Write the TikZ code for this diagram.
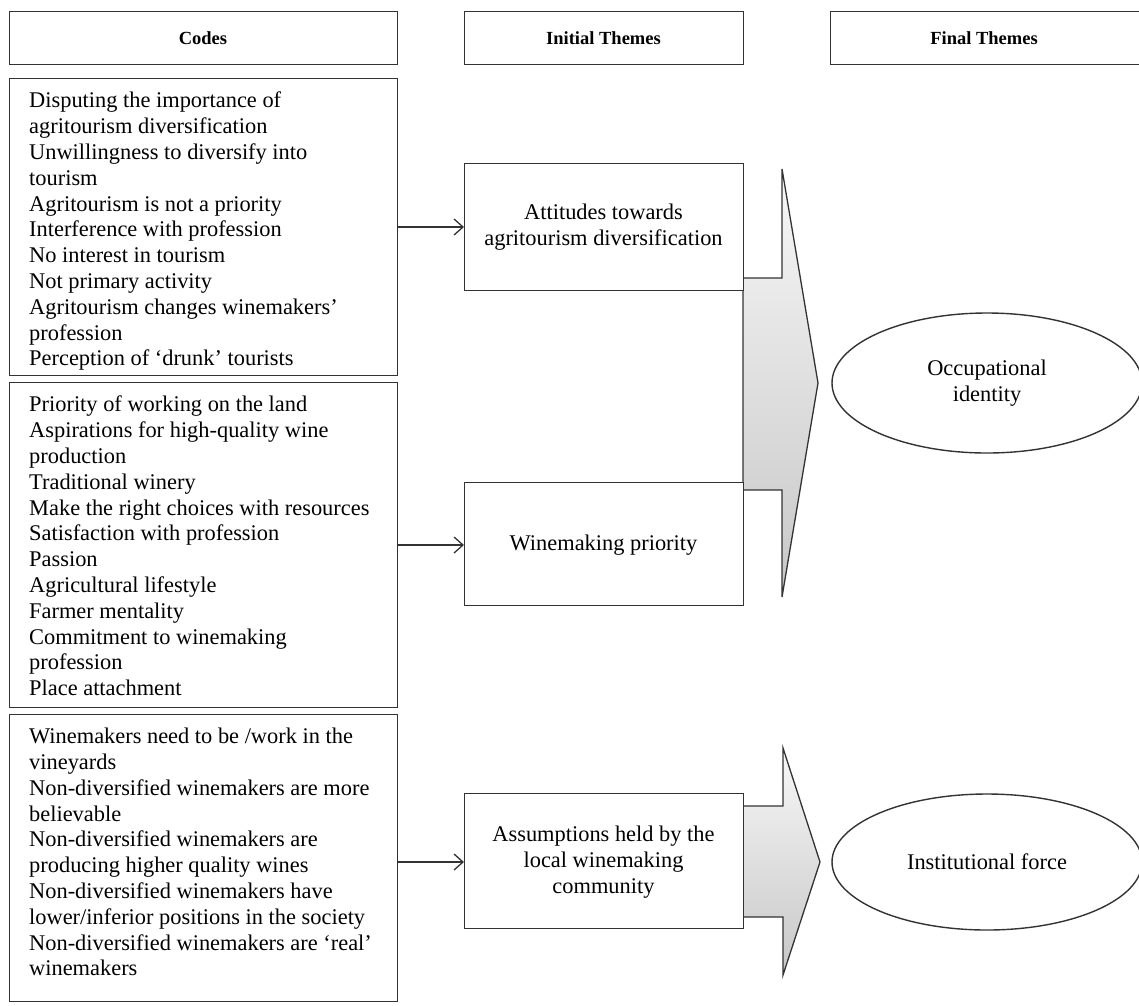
\documentclass[tikz,border=0pt]{standalone}
\usepackage{fontspec}
\setmainfont{Liberation Serif}
\usetikzlibrary{shapes.geometric,arrows.meta}
\definecolor{linec}{HTML}{333333}
\tikzset{
  x=1pt, y=-1pt,
  boxline/.style={draw=linec, line width=1.4pt},
  hbox/.style={boxline, rectangle, anchor=north west, inner sep=0pt},
  htext/.style={inner sep=0pt, anchor=base, font=\fontsize{18.5}{21}\selectfont\bfseries},
  codebox/.style={boxline, rectangle, anchor=north west, inner sep=0pt},
  codetext/.style={anchor=north west, inner sep=0pt, align=left, font=\fontsize{22.4}{25.8}\selectfont},
  themebox/.style={boxline, rectangle, fill=white, anchor=north west, inner sep=0pt},
  themetext/.style={inner sep=0pt, align=center, font=\fontsize{22.4}{25.8}\selectfont},
  finalell/.style={boxline, ellipse, inner sep=0pt, align=center, font=\fontsize{22.4}{25.8}\selectfont},
  bigarrow/.style={draw=linec, line width=1.3pt, top color=black!3, bottom color=black!22},
  smallarrow/.style={draw=linec, line width=1.3pt, -{Straight Barb[length=9pt,width=16pt,line width=1.3pt]}}
}
\begin{document}
\begin{tikzpicture}
\clip (0,0) rectangle (1139,1005);
\fill[white] (0,0) rectangle (1139,1005);

% headers
\node[hbox, minimum width=388, minimum height=53] (hcodes) at (9,11) {};
\node[htext] (hcodest) at (203,44) {Codes};
\node[hbox, minimum width=279, minimum height=53] (hinit) at (464,11) {};
\node[htext] (hinitt) at (603.5,44) {Initial Themes};
\node[hbox, minimum width=320, minimum height=53] (hfinal) at (830,11) {};
\node[htext] (hfinalt) at (984,44) {Final Themes};

% code boxes
\node[codebox, minimum width=388, minimum height=297] (c1) at (9,78) {};
\node[codetext] (t1) at (29,92) {Disputing the importance of\\agritourism diversification\\Unwillingness to diversify into\\tourism\\Agritourism is not a priority\\Interference with profession\\No interest in tourism\\Not primary activity\\Agritourism changes winemakers’\\profession\\Perception of ‘drunk’ tourists};

\node[codebox, minimum width=388, minimum height=325] (c2) at (9,382) {};
\node[codetext] (t2) at (29,396) {Priority of working on the land\\Aspirations for high-quality wine\\production\\Traditional winery\\Make the right choices with resources\\Satisfaction with profession\\Passion\\Agricultural lifestyle\\Farmer mentality\\Commitment to winemaking\\profession\\Place attachment};

\node[codebox, minimum width=388, minimum height=287] (c3) at (9,714) {};
\node[codetext] (t3) at (29,728) {Winemakers need to be /work in the\\vineyards\\Non-diversified winemakers are more\\believable\\Non-diversified winemakers are\\producing higher quality wines\\Non-diversified winemakers have\\lower/inferior positions in the society\\Non-diversified winemakers are ‘real’\\winemakers};

% big arrows
\path[bigarrow] (743,278) -- (782,278) -- (782,169) -- (818,383) -- (782,597) -- (782,490) -- (743,490) -- cycle;
\path[bigarrow] (743,806) -- (783,806) -- (783,748) -- (820,862) -- (783,975) -- (783,917) -- (743,917) -- cycle;

% initial theme boxes
\node[themebox, minimum width=279, minimum height=127] (a1) at (464,163) {};
\node[themetext] (a1t) at (603.5,227) {Attitudes towards\\agritourism diversification};
\node[themebox, minimum width=279, minimum height=123] (a2) at (464,482) {};
\node[themetext] (a2t) at (603.5,545) {Winemaking priority};
\node[themebox, minimum width=279, minimum height=135] (a3) at (464,793) {};
\node[themetext] (a3t) at (603.5,862) {Assumptions held by the\\local winemaking\\community};

% final themes
\node[finalell, minimum width=310, minimum height=140] (f1) at (987,383) {Occupational\\identity};
\node[finalell, minimum width=310, minimum height=136] (f2) at (987,862) {Institutional force};

% connectors
\coordinate (s1) at (c1.east |- a1t);
\coordinate (s2) at (c2.east |- a2t);
\coordinate (s3) at (c3.east |- a3t);
\draw[smallarrow] (s1) -- (a1.west |- a1t);
\draw[smallarrow] (s2) -- (a2.west |- a2t);
\draw[smallarrow] (s3) -- (a3.west |- a3t);
\end{tikzpicture}
\end{document}
